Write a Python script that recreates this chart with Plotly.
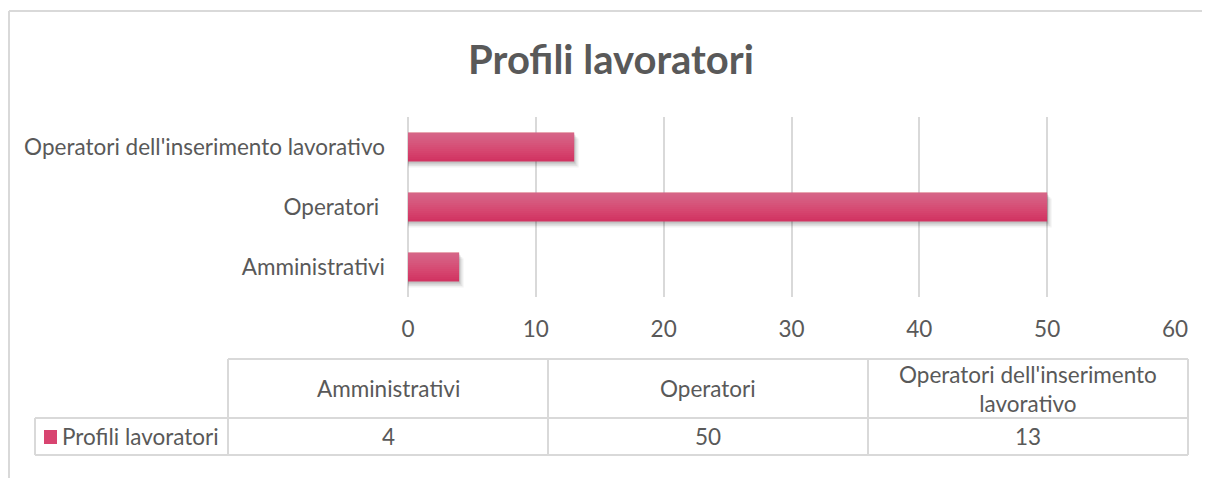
import plotly.graph_objects as go

categories = ["Amministrativi", "Operatori ", "Operatori dell'inserimento lavorativo"]
values = [4, 50, 13]
series_name = "Profili lavoratori"
x_ticks = [0, 10, 20, 30, 40, 50, 60]
table_headers = ["Amministrativi", "Operatori", "Operatori dell'inserimento<br>lavorativo"]

OFF = 8                      # page body margin of the browser
SW, SH = 1210, 478           # screen size
W, H = SW - OFF, SH - OFF    # figure size
L, R, T, B = 408, 1175, 117, 297  # plot area in screen pixels
FONT = "Lato, Carlito, Calibri, sans-serif"
FS = 22.5
TXT = "#595959"
GRID = "#d9d9d9"
BAR = "#d13462"


def px(x):
    return (x - L) / (R - L)


def py(y):
    return (B - y) / (B - T)


fig = go.Figure()

bw = 0.48
# soft shadow layers
for dx, dy, a in [(0.35, 0.10, 0.05), (0.25, 0.075, 0.06), (0.15, 0.05, 0.07), (0.07, 0.03, 0.08)]:
    fig.add_trace(go.Bar(
        y=categories, x=[v + dx for v in values], orientation="h", width=bw,
        offset=-bw / 2 - dy,
        marker=dict(color=f"rgba(0,0,0,{a})", line=dict(width=0)),
        hoverinfo="skip", showlegend=False,
    ))
# bar with smooth vertical gradient (light at the top)
fig.add_trace(go.Bar(
    y=categories, x=values, orientation="h", width=bw, offset=-bw / 2,
    marker=dict(color=BAR, line=dict(width=0)),
    name=series_name, showlegend=False,
))
steps = 14
for k in range(1, steps):
    frac = 1 - k / steps
    fig.add_trace(go.Bar(
        y=categories, x=values, orientation="h", width=bw * frac,
        offset=bw / 2 - bw * frac,
        marker=dict(color="rgba(255,255,255,0.022)", line=dict(width=0)),
        hoverinfo="skip", showlegend=False,
    ))

shapes = []
# outer frame (left and top)
shapes.append(dict(type="line", xref="paper", yref="paper",
                   x0=px(9), x1=px(9), y0=py(11), y1=py(SH + 5),
                   line=dict(color=GRID, width=2)))
shapes.append(dict(type="line", xref="paper", yref="paper",
                   x0=px(9), x1=px(SW + 5), y0=py(11), y1=py(11),
                   line=dict(color=GRID, width=2)))

# data table
t_top, t_mid, t_bot = 359, 418, 455
col_x = [228, 548, 868, 1188]
leg_x = 35
tl = dict(color=GRID, width=2)
shapes.append(dict(type="line", xref="paper", yref="paper",
                   x0=px(col_x[0]), x1=px(col_x[-1]), y0=py(t_top), y1=py(t_top), line=tl))
for yy in (t_mid, t_bot):
    shapes.append(dict(type="line", xref="paper", yref="paper",
                       x0=px(leg_x), x1=px(col_x[-1]), y0=py(yy), y1=py(yy), line=tl))
for xx in col_x:
    shapes.append(dict(type="line", xref="paper", yref="paper",
                       x0=px(xx), x1=px(xx), y0=py(t_top), y1=py(t_bot), line=tl))
shapes.append(dict(type="line", xref="paper", yref="paper",
                   x0=px(leg_x), x1=px(leg_x), y0=py(t_mid), y1=py(t_bot), line=tl))
# legend key
shapes.append(dict(type="rect", xref="paper", yref="paper",
                   x0=px(44), x1=px(57), y0=py(444), y1=py(430),
                   fillcolor="#d84470", line=dict(width=0)))

annotations = []
for i, (hdr, v) in enumerate(zip(table_headers, values)):
    cx = (col_x[i] + col_x[i + 1]) / 2
    annotations.append(dict(xref="paper", yref="paper", x=px(cx), y=py((t_top + t_mid) / 2),
                            text=hdr, showarrow=False, xanchor="center", yanchor="middle",
                            font=dict(family=FONT, size=FS, color=TXT)))
    annotations.append(dict(xref="paper", yref="paper", x=px(cx), y=py((t_mid + t_bot) / 2),
                            text=str(v), showarrow=False, xanchor="center", yanchor="middle",
                            font=dict(family=FONT, size=FS, color=TXT)))
annotations.append(dict(xref="paper", yref="paper", x=px(60), y=py((t_mid + t_bot) / 2),
                        text=series_name, showarrow=False, xanchor="left", yanchor="middle",
                        font=dict(family=FONT, size=FS, color=TXT)))

fig.update_layout(
    width=W, height=H,
    margin=dict(l=L - OFF, r=SW - R, t=T - OFF, b=SH - B, pad=0),
    paper_bgcolor="white", plot_bgcolor="white",
    barmode="overlay",
    title=dict(text="<b>Profili lavoratori</b>", x=(611 - OFF) / W, xanchor="center",
               y=1 - (60 - OFF) / H, yanchor="middle",
               font=dict(family=FONT, size=40, color=TXT)),
    shapes=shapes, annotations=annotations,
    showlegend=False,
)
fig.update_xaxes(range=[0, 60], tickvals=x_ticks, showgrid=True, gridcolor=GRID, gridwidth=1.5,
                 zeroline=True, zerolinecolor=GRID, zerolinewidth=1.5, showline=False,
                 ticks="", ticklabelstandoff=16,
                 tickfont=dict(family=FONT, size=FS, color=TXT), fixedrange=True)
fig.update_yaxes(categoryorder="array", categoryarray=categories, range=[-0.5, 2.5],
                 showgrid=False, zeroline=False, showline=False, ticks="",
                 ticklabelstandoff=22,
                 tickfont=dict(family=FONT, size=FS, color=TXT), fixedrange=True)

fig.write_html("out.html")
